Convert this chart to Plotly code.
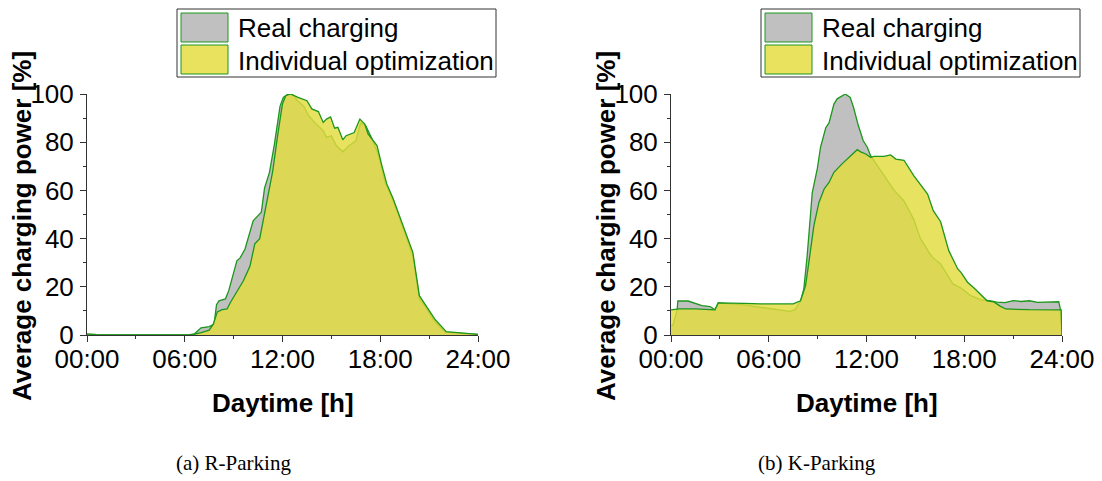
import plotly.graph_objects as go

W, H = 1102, 481

# ---------------- data ----------------
series_names = ["Real charging", "Individual optimization"]
panel_captions = ["(a) R-Parking", "(b) K-Parking"]
tick_vals = [0, 6, 12, 18, 24]
tick_text = ["00:00", "06:00", "12:00", "18:00", "24:00"]

# R-Parking
r_real_h = [0, 0.3, 0.6, 1.0, 6.2, 6.6, 7.0, 7.5, 7.8, 7.95, 8.1, 8.5, 8.7, 9.2, 9.4,
            9.7, 9.9, 10.2, 10.7, 10.9, 11.2, 11.5, 11.85, 12.05, 12.35, 12.65, 12.95,
            13.3, 13.6, 14.0, 14.5, 14.7, 15.0, 15.3, 15.7, 16.1, 16.5, 16.8, 17.1,
            17.5, 17.9, 18.3, 18.8, 19.3, 20.0, 20.4, 20.8, 21.3, 22.0, 23.0, 24.0]
r_real = [0.4, 0.4, 0.1, 0, 0, 0.5, 3.0, 3.5, 4.5, 12.6, 14.2, 15.0, 18.4, 30.8, 32.0,
          35.7, 40.0, 47.4, 51.0, 61.0, 67.5, 79.0, 95.0, 98.6, 100, 99.5, 97.0,
          95.0, 91.0, 88.0, 84.8, 82.0, 82.7, 78.6, 76.0, 78.6, 80.6, 88.0, 86.9,
          81.3, 74.4, 63.3, 55.7, 46.0, 33.0, 15.0, 11.5, 6.0, 1.1, 0.7, 0.3]

r_opt_h = [0, 0.3, 0.6, 1.0, 6.4, 7.0, 7.5, 7.75, 8.0, 8.3, 8.6, 8.8, 9.4, 9.6, 10.0,
           10.3, 10.6, 10.8, 11.1, 11.4, 11.7, 12.0, 12.2, 12.5, 12.95, 13.5, 13.8,
           14.2, 14.5, 14.7, 14.95, 15.2, 15.4, 15.7, 15.9, 16.4, 16.75, 17.05, 17.25,
           17.8, 18.1, 18.4, 18.8, 19.3, 20.0, 20.4, 20.8, 21.35, 22.05, 23.1, 24.0]
r_opt = [0.4, 0.4, 0.1, 0, 0, 1.0, 2.0, 4.5, 9.6, 10.5, 10.8, 13.5, 20.3, 22.5, 28.5,
         37.8, 40.0, 47.4, 57.0, 68.0, 82.7, 96.0, 99.3, 100, 98.6, 97.2, 93.8,
         92.7, 88.2, 89.6, 90.5, 85.8, 86.2, 81.0, 82.7, 84.0, 89.6, 87.5, 83.4,
         78.6, 70.3, 62.7, 56.4, 47.4, 34.3, 16.3, 12.2, 6.6, 1.4, 0.8, 0.3]

# K-Parking
k_real_h = [0, 0.12, 0.38, 0.42, 1.05, 1.5, 1.9, 2.4, 2.7, 2.9, 4.5, 5.5, 6.5, 7.3, 7.6,
            7.95, 8.15, 8.36, 8.67, 8.98, 9.18, 9.5, 9.7, 10.0, 10.2, 10.7, 11.0, 11.2,
            11.5, 11.8, 12.05, 12.25, 12.9, 13.7, 14.3, 14.9, 15.3, 15.9, 16.1, 16.55,
            17.3, 17.8, 18.4, 19.0, 19.6, 20.0, 20.5, 21.0, 21.5, 22.0, 22.5, 23.0,
            23.8, 23.9, 24.0]
k_real = [4.0, 4.0, 10.5, 14.1, 14.1, 13.0, 12.2, 11.8, 10.5, 13.3, 12.5, 11.5, 10.5, 9.8, 10.5,
          14.0, 19.0, 33.0, 59.0, 69.0, 78.0, 86.0, 88.0, 95.8, 98.0, 100, 98.6, 94.5,
          86.9, 80.6, 77.9, 74.4, 68.0, 60.0, 55.6, 48.0, 40.2, 33.6, 32.0, 29.5,
          21.2, 19.5, 16.3, 14.7, 14.2, 13.6, 13.4, 14.3, 13.9, 14.2, 13.5, 13.7,
          13.8, 10.8, 0]

k_opt_h = [0, 0.5, 1.5, 2.2, 2.7, 2.9, 3.5, 4.5, 5.5, 6.5, 7.5, 7.95, 8.26, 8.46, 8.77,
           9.08, 9.4, 9.7, 10.0, 10.5, 11.0, 11.43, 11.64, 11.95, 12.25, 12.46, 13.07,
           13.48, 13.8, 14.3, 14.9, 15.75, 16.1, 16.55, 17.05, 17.6, 17.8, 18.2, 18.6,
           19.4, 19.8, 20.2, 20.55, 21.5, 22.0, 23.95, 24.0]
k_opt = [10.4, 10.8, 10.8, 10.6, 10.4, 13.3, 13.3, 13.1, 12.9, 12.9, 12.9, 14.2, 20.5, 30.0, 45.4,
         55.0, 60.6, 63.3, 67.5, 71.0, 74.4, 76.9, 76.0, 75.1, 73.7, 74.1, 74.1,
         74.7, 73.0, 72.5, 66.1, 58.5, 51.6, 47.0, 35.0, 27.4, 26.0, 21.9, 19.5,
         14.2, 13.8, 12.0, 10.8, 10.8, 10.5, 10.4, 0]

panels = [
    (r_real_h, r_real, r_opt_h, r_opt),
    (k_real_h, k_real, k_opt_h, k_opt),
]

# ---------------- styling ----------------
LINE_GREEN = "rgb(28,150,28)"
GRAY_FILL = "rgb(192,192,192)"
YELLOW_FILL = "rgba(226,220,60,0.82)"
YELLOW_SWATCH = "rgb(232,226,94)"
AXIS_COL = "#333333"
FONT = "Liberation Sans, Arial, sans-serif"
FS = 26
PAGE_OFF = 8  # page body margin


def px(x):
    return (x - PAGE_OFF) / W


def py(y):
    return 1 - (y - PAGE_OFF) / H


x_doms = [(87, 478), (671, 1062)]
y_dom = (94, 335)

fig = go.Figure()

for i, (rh, rv, oh, ov) in enumerate(panels):
    xa = "x" if i == 0 else "x2"
    ya = "y" if i == 0 else "y2"
    fig.add_trace(go.Scatter(
        x=rh, y=rv, xaxis=xa, yaxis=ya, mode="lines", fill="tozeroy",
        fillcolor=GRAY_FILL, line=dict(color=LINE_GREEN, width=1.3),
        name=series_names[0], showlegend=False, hoverinfo="skip"))
    fig.add_trace(go.Scatter(
        x=oh, y=ov, xaxis=xa, yaxis=ya, mode="lines", fill="tozeroy",
        fillcolor=YELLOW_FILL, line=dict(color=LINE_GREEN, width=1.3),
        name=series_names[1], showlegend=False, hoverinfo="skip"))

axis_common = dict(
    showline=True, linecolor=AXIS_COL, linewidth=1, mirror=False,
    showgrid=False, zeroline=False, ticks="outside", ticklen=6,
    tickcolor=AXIS_COL, tickwidth=1, automargin=False,
    tickfont=dict(family=FONT, size=FS, color="black"),
)

layout = dict(
    width=W, height=H, margin=dict(l=0, r=0, t=0, b=0, autoexpand=False),
    paper_bgcolor="white", plot_bgcolor="white",
    font=dict(family=FONT, color="black"),
)
for i in range(2):
    sx = "" if i == 0 else "2"
    x0, x1 = x_doms[i]
    layout["xaxis" + sx] = dict(
        axis_common, domain=[px(x0), px(x1)], range=[0, 24],
        tickvals=tick_vals, ticktext=tick_text, ticklabelstandoff=-5,
        minor=dict(dtick=3, tick0=0, ticks="outside", ticklen=3, tickcolor=AXIS_COL),
        anchor="y" + sx)
    layout["yaxis" + sx] = dict(
        axis_common, domain=[py(y_dom[1]), py(y_dom[0])], range=[0, 100],
        tickvals=[0, 20, 40, 60, 80, 100], ticklabelstandoff=1,
        minor=dict(dtick=10, tick0=0, ticks="outside", ticklen=3, tickcolor=AXIS_COL),
        anchor="x" + sx)
fig.update_layout(**layout)

shapes = []
annotations = []
for i in range(2):
    off = 0 if i == 0 else 584
    cx = (x_doms[i][0] + x_doms[i][1]) / 2
    # axis titles
    annotations.append(dict(
        x=px(cx), y=py(403), xref="paper", yref="paper", showarrow=False,
        text="Daytime [h]", font=dict(family=FONT, size=FS, color="black", weight="bold"),
        xanchor="center", yanchor="middle"))
    annotations.append(dict(
        x=px(22 + off), y=py(226), xref="paper", yref="paper", showarrow=False,
        text="Average charging power [%]", textangle=-90,
        font=dict(family=FONT, size=FS, color="black", weight="bold"),
        xanchor="center", yanchor="middle"))
    # caption
    annotations.append(dict(
        x=px(233 + off), y=py(463), xref="paper", yref="paper", showarrow=False,
        text=panel_captions[i],
        font=dict(family="Liberation Serif, Times New Roman, serif", size=21, color="black"),
        xanchor="center", yanchor="middle"))
    # legend box
    shapes.append(dict(type="rect", xref="paper", yref="paper",
                       x0=px(177 + off), x1=px(496 + off), y0=py(77), y1=py(9),
                       line=dict(color=AXIS_COL, width=1), fillcolor="white"))
    shapes.append(dict(type="rect", xref="paper", yref="paper",
                       x0=px(181 + off), x1=px(228 + off), y0=py(42), y1=py(13),
                       line=dict(color=LINE_GREEN, width=1), fillcolor=GRAY_FILL))
    shapes.append(dict(type="rect", xref="paper", yref="paper",
                       x0=px(181 + off), x1=px(228 + off), y0=py(74), y1=py(45),
                       line=dict(color=LINE_GREEN, width=1), fillcolor=YELLOW_SWATCH))
    for j, yy in enumerate([28, 61]):
        annotations.append(dict(
            x=px(236 + off), y=py(yy), xref="paper", yref="paper", showarrow=False,
            text=series_names[j], font=dict(family=FONT, size=FS, color="black"),
            xanchor="left", yanchor="middle"))

fig.update_layout(shapes=shapes, annotations=annotations)
fig.write_html("out.html")
